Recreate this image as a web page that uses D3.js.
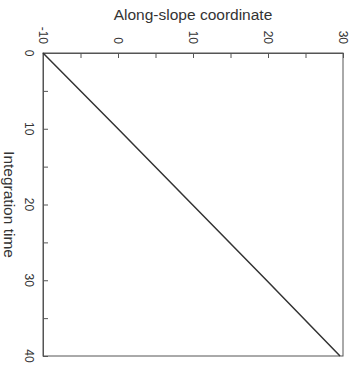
<!DOCTYPE html>
<html>
<head>
<meta charset="utf-8">
<script src="https://cdn.jsdelivr.net/npm/d3@7"></script>
<style>
  html, body { margin: 0; padding: 0; background: #fff; }
  svg { display: block; font-family: "Liberation Sans", Arial, sans-serif; }
</style>
</head>
<body>
<svg id="chart" width="356" height="366"></svg>
<script>
// Data
const integrationTime = [0, 10, 20, 30, 40];
const alongSlope = [-10, 0, 9.9, 19.8, 29.6];
const alongTicks = [-10, -5, 0, 5, 10, 15, 20, 25, 30];
const alongLabels = [-10, 0, 10, 20, 30];
const timeTicks = [0, 5, 10, 15, 20, 25, 30, 35, 40];
const timeLabels = [0, 10, 20, 30, 40];

const svg = d3.select("#chart");
const mLeft = 43, mRight = 343, mTop = 53, mBottom = 356;
const x = d3.scaleLinear().domain([-10, 30]).range([mLeft, mRight]);
const y = d3.scaleLinear().domain([0, 40]).range([mTop, mBottom]);

const axisColor = "#555";
const textColor = "#333";

// box
svg.append("rect")
  .attr("x", mLeft).attr("y", mTop)
  .attr("width", mRight - mLeft).attr("height", mBottom - mTop)
  .attr("fill", "none").attr("stroke", axisColor).attr("stroke-width", 1);

// top axis (along-slope) ticks inward
const topAxis = svg.append("g").attr("transform", `translate(0,${mTop})`)
  .call(d3.axisTop(x).tickValues(alongTicks).tickSizeInner(-5).tickSizeOuter(0).tickFormat(""));
topAxis.select(".domain").attr("stroke", axisColor);
topAxis.selectAll(".tick line").attr("stroke", axisColor);

// left axis (time) ticks inward
const leftAxis = svg.append("g").attr("transform", `translate(${mLeft},0)`)
  .call(d3.axisLeft(y).tickValues(timeTicks).tickSizeInner(-5).tickSizeOuter(0).tickFormat(""));
leftAxis.select(".domain").attr("stroke", axisColor);
leftAxis.selectAll(".tick line").attr("stroke", axisColor);

// top tick labels (rotated 90deg clockwise)
svg.append("g").selectAll("text").data(alongLabels).join("text")
  .attr("transform", d => `translate(${x(d) - 4.3},${mTop - 9}) rotate(90)`)
  .attr("text-anchor", "end")
  .attr("font-size", 12).attr("fill", textColor)
  .text(d => d);

// left tick labels (rotated 90deg clockwise)
svg.append("g").selectAll("text").data(timeLabels).join("text")
  .attr("transform", d => `translate(${mLeft - 18},${y(d)}) rotate(90)`)
  .attr("text-anchor", "middle")
  .attr("font-size", 12).attr("fill", textColor)
  .text(d => d);

// axis titles
svg.append("text")
  .attr("x", (mLeft + mRight) / 2).attr("y", 20)
  .attr("text-anchor", "middle").attr("font-size", 15.5).attr("fill", textColor)
  .text("Along-slope coordinate");

svg.append("text")
  .attr("transform", `translate(4,${(mTop + mBottom) / 2}) rotate(90)`)
  .attr("text-anchor", "middle").attr("font-size", 15.5).attr("fill", textColor)
  .text("Integration time");

// line
const line = d3.line().x((d, i) => x(alongSlope[i])).y((d, i) => y(integrationTime[i]));
svg.append("path")
  .datum(integrationTime)
  .attr("d", line)
  .attr("fill", "none").attr("stroke", "#333").attr("stroke-width", 1.5);
</script>
</body>
</html>
